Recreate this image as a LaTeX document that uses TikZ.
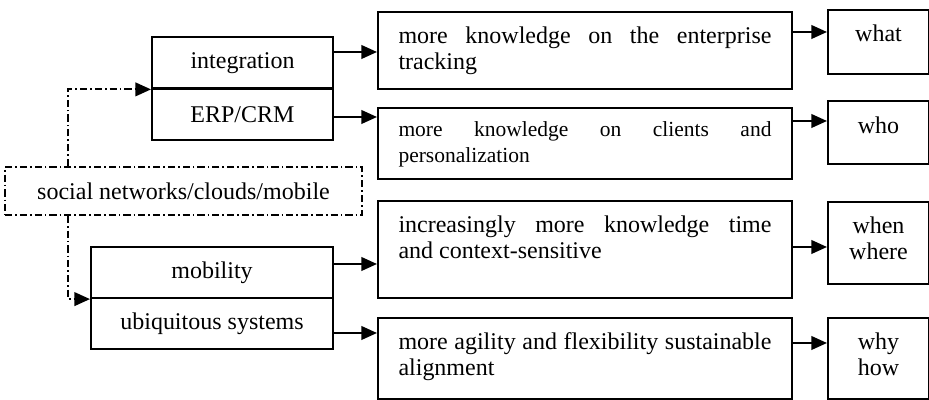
\documentclass[tikz,border=0pt]{standalone}
\usepackage{fontspec}
\setmainfont{Liberation Serif}
\usetikzlibrary{arrows.meta}
\tikzset{
  halfbox/.style={draw, line width=0.050000cm, rectangle, minimum height=1.280000cm, inner sep=0cm},
  bigbox/.style={draw, line width=0.050000cm, anchor=north west, text width=9.325000cm, align=justify, inner xsep=0.512500cm, inner ysep=0cm, text height=0.785000cm},
  smallbox/.style={draw, line width=0.050000cm, anchor=north west, text width=2.000000cm, align=center, inner xsep=0.262500cm, inner ysep=0cm, text height=0.785000cm},
  arr/.style={line width=0.050000cm, -{Triangle[length=0.390000cm, width=0.340000cm]}},
  dashdot/.style={line width=0.045000cm, dash pattern=on 0.180cm off 0.075cm on 0.040cm off 0.075cm}
}
\begin{document}
\begin{tikzpicture}
                        \useasboundingbox (0,0) rectangle (23.225000,10.000000);
                        {\fontsize{17.07pt}{18.85pt}\selectfont

                        % Drawing box integration / ERP/CRM
                        \node [halfbox, minimum width=4.525000cm] (integration) at (6.062500,8.430000) {integration};%
                        \node [halfbox, minimum width=4.525000cm] (erpcrm) at (6.062500,7.145000) {ERP/CRM};%

                        % Drawing box social networks
                        \node [draw, dashdot, rectangle, minimum width=8.925000cm, minimum height=1.200000cm, inner sep=0cm] (social) at (4.587500,5.225000) {social networks/clouds/mobile};%

                        % Drawing box mobility / ubiquitous systems
                        \node [halfbox, minimum width=6.050000cm] (mobility) at (5.300000,3.187500) {mobility};%
                        \node [halfbox, minimum width=6.050000cm] (ubiquitous) at (5.300000,1.912500) {ubiquitous systems};%

                        % Drawing knowledge boxes
                        \node [bigbox, text depth=1.140000cm] (knowenterprise) at (9.425000,9.725000) {more knowledge on the enterprise\linebreak tracking};%
                        \node [bigbox, font=\fontsize{15.30pt}{18.50pt}\selectfont, text height=0.720000cm, text depth=1.055000cm] (knowclients) at (9.425000,7.325000) {more knowledge on clients and\linebreak personalization};%
                        \node [bigbox, text depth=1.640000cm] (knowtime) at (9.425000,5.000000) {increasingly more knowledge time\linebreak and context-sensitive};%
                        \node [bigbox, text depth=1.240000cm] (knowagility) at (9.425000,2.075000) {more agility and flexibility sustainable\linebreak alignment};%

                        % Drawing question boxes
                        \node [smallbox, text depth=0.815000cm] (what) at (20.675000,9.775000) {what};%
                        \node [smallbox, text height=0.810000cm, text depth=0.765000cm] (who) at (20.675000,7.500000) {who};%
                        \node [smallbox, text depth=1.265000cm] (whenwhere) at (20.675000,4.975000) {when\\where};%
                        \node [smallbox, text depth=1.240000cm] (whyhow) at (20.675000,2.075000) {why\\how};%

                        % Drawing dash-dot links from social networks
                        \draw [dashdot, arr] (1.700000,0 |- social.north) |- (integration.south west);%
                        \draw [dashdot, arr] (1.700000,0 |- social.south) |- (mobility.south west);%

                        % Drawing arrows to knowledge boxes
                        \draw [arr] (integration.east |- 0,8.700000) -- (knowenterprise.west |- 0,8.700000);%
                        \draw [arr] (erpcrm.east |- 0,7.075000) -- (knowclients.west |- 0,7.075000);%
                        \draw [arr] (mobility.east |- 0,3.400000) -- (knowtime.west |- 0,3.400000);%
                        \draw [arr] (ubiquitous.east |- 0,1.675000) -- (knowagility.west |- 0,1.675000);%

                        % Drawing arrows to question boxes
                        \draw [arr] (knowenterprise.east |- 0,9.200000) -- (what.west |- 0,9.200000);%
                        \draw [arr] (knowclients.east |- 0,6.975000) -- (who.west |- 0,6.975000);%
                        \draw [arr] (knowtime.east |- 0,3.825000) -- (whenwhere.west |- 0,3.825000);%
                        \draw [arr] (knowagility.east |- 0,1.425000) -- (whyhow.west |- 0,1.425000);%
                        }
                    \end{tikzpicture}
\end{document}
